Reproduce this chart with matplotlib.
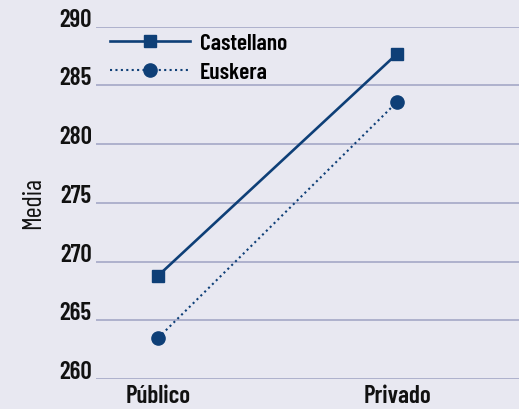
import matplotlib.pyplot as plt

categories = ["Público", "Privado"]
castellano = [268.8, 287.7]
euskera = [263.5, 283.6]
yticks = [260, 265, 270, 275, 280, 285, 290]

bg = "#e8e8f1"
navy = "#0e3f77"
plt.rcParams['font.family'] = ['Barlow Condensed', 'Roboto Condensed', 'DejaVu Sans']
plt.rcParams['font.weight'] = 600

fig = plt.figure(figsize=(5.19, 4.09), dpi=100, facecolor=bg)
ax = fig.add_axes([0.185, 0.0733, 0.815, 0.8614], facecolor=bg)

x = range(len(categories))
ax.plot(x, castellano, color=navy, lw=1.9, marker="s", ms=9, label="Castellano")
ax.plot(x, euskera, color=navy, lw=1.5, ls=(0, (1, 1.6)), marker="o", ms=9.5, label="Euskera")

ax.set_ylim(260, 290)
ax.set_xlim(-0.26, 1.51)
ax.set_yticks(yticks)
ax.set_xticks(list(x))
ax.set_xticklabels(categories)
ax.yaxis.grid(True, color="#aeb1cc", lw=1.4)
ax.set_axisbelow(True)
for s in ax.spines.values():
    s.set_visible(False)
ax.tick_params(length=0, labelsize=18, labelcolor="#111111")
ax.tick_params(axis="y", pad=3)
ax.tick_params(axis="x", pad=4)
for lab in ax.get_yticklabels():
    lab.set_va("baseline")
ax.set_ylabel("Media", fontsize=19, color="#111111", labelpad=10)

ax.legend(loc="upper left", bbox_to_anchor=(0.033, 0.982), frameon=False, fontsize=17,
          handlelength=3.4, handletextpad=0.42, labelspacing=0.36, borderaxespad=0,
          borderpad=0)

fig.savefig("out.png", dpi=100, facecolor=bg)
